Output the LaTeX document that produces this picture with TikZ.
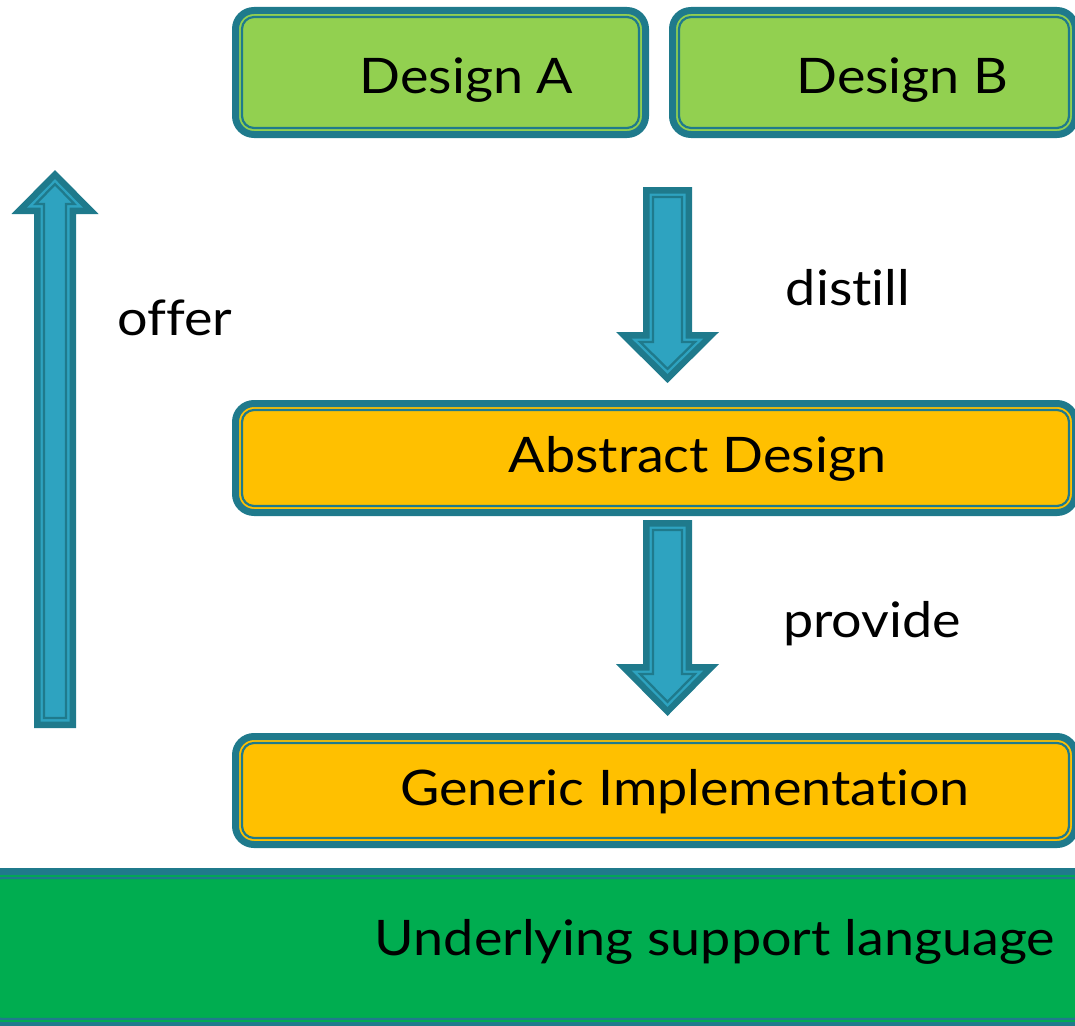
\documentclass[tikz,border=0pt]{standalone}
\usepackage{fontspec}
\setmainfont{Lato}[Ligatures=NoCommon, FakeStretch=1.1]
\definecolor{tealc}{HTML}{1F7A8C}
\definecolor{lgreen}{HTML}{92D050}
\definecolor{orangec}{HTML}{FFC000}
\definecolor{dgreen}{HTML}{00AD50}
\definecolor{arrowc}{HTML}{2EA3C0}
\newcommand\arrowlayer[9]{%
  \pgfmathsetmacro\aYs{#2+#7*#8}%
  \pgfmathsetmacro\aYb{#3+#7*#8}%
  \pgfmathsetmacro\aYt{#4-#7*#8*1.4142}%
  \pgfmathsetmacro\aW{#5-#8}%
  \pgfmathsetmacro\aH{#6-#8*2.4142}%
  \path[#9] (#1-\aW,\aYs) -- (#1+\aW,\aYs) -- (#1+\aW,\aYb) -- (#1+\aH,\aYb)
    -- (#1,\aYt) -- (#1-\aH,\aYb) -- (#1-\aW,\aYb) -- cycle;}
\newcommand\blockarrow[7]{%
  \arrowlayer{#1}{#2}{#3}{#4}{#5}{#6}{#7}{0}{fill=tealc}%
  \arrowlayer{#1}{#2}{#3}{#4}{#5}{#6}{#7}{6.5}{fill=arrowc}%
  \arrowlayer{#1}{#2}{#3}{#4}{#5}{#6}{#7}{10}{draw=tealc,line width=2.3pt,fill=arrowc,line join=miter}}
\begin{document}
\begin{tikzpicture}[x=1pt,y=-1pt,
  box/.style={draw=tealc, line width=7pt, rounded corners=18.5pt, outer sep=3.5pt, inner sep=0pt},
  innerln/.style={draw=tealc, line width=2.2pt, rounded corners=12pt},
  lbl/.style={inner sep=0pt, anchor=base, font=\fontsize{49}{56}\selectfont}]
\useasboundingbox (0,0) rectangle (1075,1025);
\clip (0,0) rectangle (1075,1025);
% boxes
\node[box, fill=lgreen, minimum width=410pt, minimum height=124pt] (bA) at (440.5,72.5) {};
\draw[innerln] ([shift={(10,10)}]bA.north west) rectangle ([shift={(-10,-10)}]bA.south east);
\node[box, fill=lgreen, minimum width=403pt, minimum height=124pt] (bB) at (874,72.5) {};
\draw[innerln] ([shift={(10,10)}]bB.north west) rectangle ([shift={(-10,-10)}]bB.south east);
\node[box, fill=orangec, minimum width=840pt, minimum height=109pt] (bAbs) at (655.5,458) {};
\draw[innerln] ([shift={(10,10)}]bAbs.north west) rectangle ([shift={(-10,-10)}]bAbs.south east);
\node[box, fill=orangec, minimum width=840pt, minimum height=108pt] (bGen) at (655.5,790.5) {};
\draw[innerln] ([shift={(10,10)}]bGen.north west) rectangle ([shift={(-10,-10)}]bGen.south east);
\node[box, fill=dgreen, minimum width=1108pt, minimum height=154pt] (bUnd) at (537.5,948.5) {};
\draw[innerln] ([shift={(10,10)}]bUnd.north west) rectangle ([shift={(-10,-10)}]bUnd.south east);
% arrows
\blockarrow{667.5}{187}{332}{383}{24.5}{51.5}{1}
\blockarrow{667.5}{520}{664}{716}{24.5}{51.5}{1}
\blockarrow{55}{728}{214}{170}{21}{43.5}{-1}
% labels
\node[lbl] (tA) at (466.5,93) {Design A};
\node[lbl] (tB) at (902.5,93) {Design B};
\node[lbl] (tDist) at (848,305) {distill};
\node[lbl] (tOffer) at (175,335) {offer};
\node[lbl] (tAbs) at (697.5,472) {Abstract Design};
\node[lbl] (tProv) at (872,637) {provide};
\node[lbl] (tGen) at (685,805) {Generic Implementation};
\node[lbl] (tUnd) at (715,955) {Underlying support language};
\end{tikzpicture}
\end{document}
